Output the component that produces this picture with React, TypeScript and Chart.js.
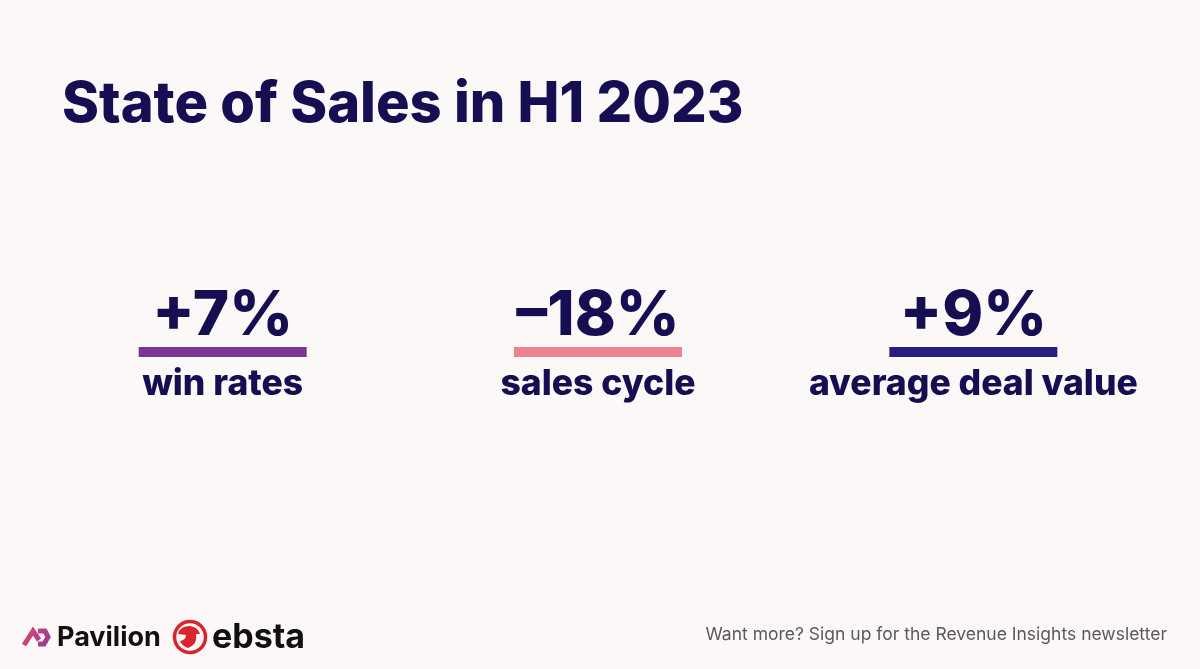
import React, { useEffect, useRef } from "react";
import { Chart, registerables } from "chart.js";

Chart.register(...registerables);

const title = "State of Sales in H1 2023";
const metricLabels = ["win rates", "sales cycle", "average deal value"];
const metricValues = [7, -18, 9];
const metricColors = ["#7B3592", "#F07F92", "#261E80"];
const footerText = "Want more? Sign up for the Revenue Insights newsletter";

const NAVY = "#150E52";
const BG = "#FCF8F7";
const FONT = "Inter, 'DejaVu Sans', sans-serif";

function fmt(v: number) {
  return (v > 0 ? "+" : v < 0 ? "\u2013" : "") + Math.abs(v) + "%";
}

const drawPlugin = {
  id: "kpiDraw",
  beforeDraw(chart: any) {
    const ctx = chart.ctx as CanvasRenderingContext2D;
    ctx.save();
    ctx.fillStyle = BG;
    ctx.fillRect(0, 0, chart.width, chart.height);
    ctx.restore();
  },
  afterDraw(chart: any) {
    const ctx = chart.ctx as CanvasRenderingContext2D;
    const xs = chart.scales.x;
    ctx.save();
    // Title
    ctx.fillStyle = NAVY;
    ctx.textBaseline = "alphabetic";
    ctx.textAlign = "left";
    ctx.font = `800 56px ${FONT}`;
    ctx.fillText(title, 62, 122);

    metricValues.forEach((v, i) => {
      const cx = xs.getPixelForValue(i);
      ctx.textAlign = "center";
      ctx.fillStyle = NAVY;
      ctx.font = `800 62px ${FONT}`;
      ctx.fillText(fmt(v), cx, 335);
      ctx.fillStyle = metricColors[i];
      ctx.fillRect(cx - 84, 347, 168, 10);
      ctx.fillStyle = NAVY;
      ctx.font = `800 35.5px ${FONT}`;
      ctx.fillText(metricLabels[i], cx, 395);
    });

    // footer text
    ctx.textAlign = "right";
    ctx.fillStyle = "#5A5A5A";
    ctx.font = `400 17.5px ${FONT}`;
    ctx.fillText(footerText, 1167, 640);

    // Pavilion logo icon
    const g = ctx.createLinearGradient(22, 628, 50, 646);
    g.addColorStop(0, "#E8476A");
    g.addColorStop(1, "#8A3A9A");
    ctx.strokeStyle = g;
    ctx.lineWidth = 5;
    ctx.lineJoin = "miter";
    ctx.beginPath();
    ctx.moveTo(24, 645);
    ctx.lineTo(33, 631);
    ctx.lineTo(39, 640);
    ctx.stroke();
    ctx.beginPath();
    ctx.moveTo(38, 631);
    ctx.lineTo(45, 631);
    ctx.lineTo(48, 637);
    ctx.lineTo(44, 644);
    ctx.lineTo(38, 644);
    ctx.stroke();

    ctx.textAlign = "left";
    ctx.fillStyle = "#111111";
    ctx.font = `700 27px ${FONT}`;
    ctx.fillText("Pavilion", 57, 646);

    // ebsta logo
    ctx.strokeStyle = "#D9262E";
    ctx.lineWidth = 3.5;
    ctx.beginPath();
    ctx.arc(190, 637, 15.5, 0, Math.PI * 2);
    ctx.stroke();
    ctx.fillStyle = "#D9262E";
    ctx.beginPath();
    ctx.moveTo(178, 634);
    ctx.quadraticCurveTo(180, 626, 190, 626);
    ctx.quadraticCurveTo(198, 627, 200, 634);
    ctx.lineTo(196, 634);
    ctx.quadraticCurveTo(198, 644, 188, 648);
    ctx.quadraticCurveTo(182, 646, 180, 641);
    ctx.quadraticCurveTo(186, 640, 186, 635);
    ctx.closePath();
    ctx.fill();

    ctx.fillStyle = "#111111";
    ctx.font = `700 34px ${FONT}`;
    ctx.fillText("ebsta", 212, 648);
    ctx.restore();
  },
};

export default function App() {
  const ref = useRef<HTMLCanvasElement | null>(null);
  useEffect(() => {
    document.body.style.margin = "0";
    document.body.style.background = BG;
    if (!ref.current) return;
    const chart = new Chart(ref.current, {
      type: "bar",
      data: {
        labels: metricLabels,
        datasets: [
          {
            data: metricValues.map(() => null as any),
            backgroundColor: metricColors,
          },
        ],
      },
      options: {
        animation: false,
        responsive: false,
        events: [],
        layout: { padding: { left: 35, right: 39, top: 0, bottom: 0 } },
        plugins: { legend: { display: false }, tooltip: { enabled: false } },
        scales: {
          x: { display: false, offset: true },
          y: { display: false },
        },
      },
      plugins: [drawPlugin],
    });
    return () => chart.destroy();
  }, []);
  return (
    <div style={{ width: 1200, height: 669, background: BG }}>
      <canvas ref={ref} width={1200} height={669} style={{ display: "block" }} />
    </div>
  );
}
